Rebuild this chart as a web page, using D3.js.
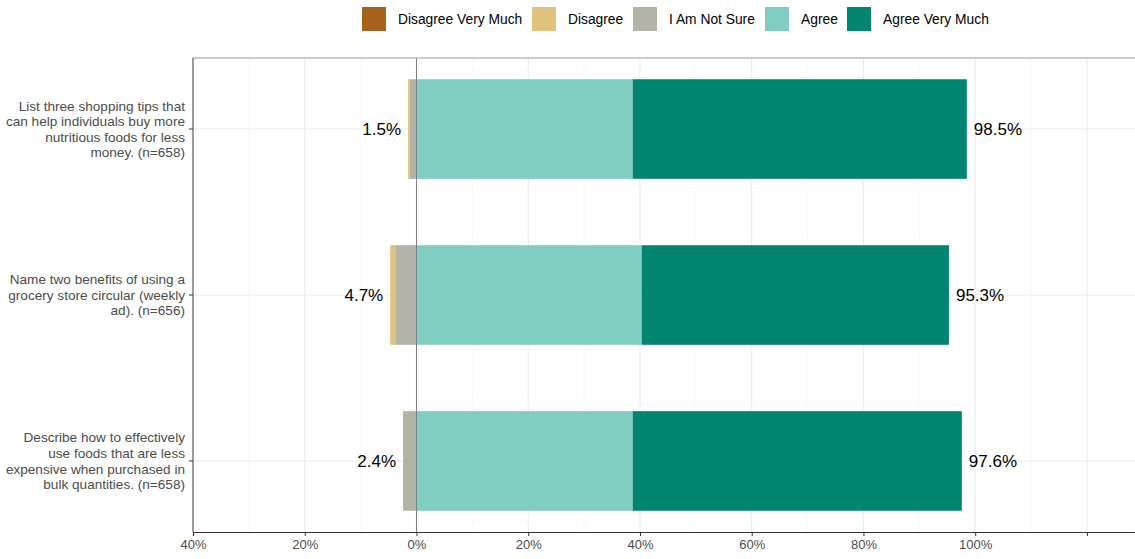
<!DOCTYPE html>
<html>
<head>
<meta charset="utf-8">
<script src="https://cdn.jsdelivr.net/npm/d3@7"></script>
<style>
  body { margin: 0; background: #fff; }
  svg { display: block; font-family: "Liberation Sans", Arial, sans-serif; }
</style>
</head>
<body>
<svg width="1135" height="559"></svg>
<script>
// Data (percent of respondents)
const items = [
  ["List three shopping tips that", "can help individuals buy more", "nutritious foods for less", "money. (n=658)"],
  ["Name two benefits of using a", "grocery store circular (weekly", "ad). (n=656)"],
  ["Describe how to effectively", "use foods that are less", "expensive when purchased in", "bulk quantities. (n=658)"],
];
const levels = ["Disagree Very Much", "Disagree", "I Am Not Sure", "Agree", "Agree Very Much"];
const disagreeVeryMuch = [0, 0, 0];
const disagree = [0.3, 0.9, 0];
const notSure = [1.2, 3.8, 2.4];
const agree = [38.7, 40.3, 38.7];
const agreeVeryMuch = [59.8, 55.0, 58.9];
const lowLabels = ["1.5%", "4.7%", "2.4%"];
const highLabels = ["98.5%", "95.3%", "97.6%"];
const xTicks = [-40, -20, 0, 20, 40, 60, 80, 100, 120];
const xTickLabels = ["40%", "20%", "0%", "20%", "40%", "60%", "80%", "100%", ""];
const minorTicks = [-30, -10, 10, 30, 50, 70, 90, 110];

const colors = {
  "Disagree Very Much": "#a6611a",
  "Disagree": "#dfc27d",
  "I Am Not Sure": "#b3b4a7",
  "Agree": "#80cdc1",
  "Agree Very Much": "#018571",
};

const svg = d3.select("svg");
const pLeft = 193, pRight = 1135, pTop = 58, pBottom = 532;

const x = d3.scaleLinear().domain([-40, 128.6]).range([pLeft, pRight]);
const y = d3.scalePoint().domain(d3.range(items.length)).range([pTop, pBottom]).padding(0.428);
const barH = y.step() * 0.6;

// build segments: negative side stacks outward from zero
const rows = items.map((lab, i) => {
  const segs = [];
  let neg = 0;
  [["I Am Not Sure", notSure[i]], ["Disagree", disagree[i]], ["Disagree Very Much", disagreeVeryMuch[i]]].forEach(([k, v]) => {
    segs.push({ key: k, x0: neg - v, x1: neg });
    neg -= v;
  });
  let pos = 0;
  [["Agree", agree[i]], ["Agree Very Much", agreeVeryMuch[i]]].forEach(([k, v]) => {
    segs.push({ key: k, x0: pos, x1: pos + v });
    pos += v;
  });
  return { i, segs, neg, pos };
});

// --- Grid ---
const grid = svg.append("g");
grid.selectAll("line.minor")
  .data(minorTicks)
  .join("line")
  .attr("class", "minor")
  .attr("x1", d => x(d)).attr("x2", d => x(d))
  .attr("y1", pTop).attr("y2", pBottom)
  .attr("stroke", "#f4f4f4").attr("stroke-width", 0.6);
grid.selectAll("line.major")
  .data(xTicks)
  .join("line")
  .attr("class", "major")
  .attr("x1", d => x(d)).attr("x2", d => x(d))
  .attr("y1", pTop).attr("y2", pBottom)
  .attr("stroke", "#ebebeb").attr("stroke-width", 1.1);
grid.selectAll("line.h")
  .data(d3.range(items.length))
  .join("line")
  .attr("class", "h")
  .attr("x1", pLeft).attr("x2", pRight)
  .attr("y1", d => y(d)).attr("y2", d => y(d))
  .attr("stroke", "#ebebeb").attr("stroke-width", 1.1);

// --- Bars ---
svg.append("g")
  .selectAll("g")
  .data(rows)
  .join("g")
  .selectAll("rect")
  .data(r => r.segs.filter(s => s.x1 > s.x0).map(s => ({ ...s, i: r.i })))
  .join("rect")
  .attr("x", d => x(d.x0))
  .attr("width", d => x(d.x1) - x(d.x0))
  .attr("y", d => y(d.i) - barH / 2)
  .attr("height", barH)
  .attr("fill", d => colors[d.key]);

// zero line
svg.append("line")
  .attr("x1", x(0)).attr("x2", x(0))
  .attr("y1", pTop).attr("y2", pBottom)
  .attr("stroke", "#7f7f7f").attr("stroke-width", 1);

// --- Value labels ---
svg.append("g")
  .selectAll("text")
  .data(rows)
  .join("text")
  .attr("x", d => x(d.neg) - 7)
  .attr("y", d => y(d.i))
  .attr("dy", "0.36em")
  .attr("text-anchor", "end")
  .attr("font-size", "17px")
  .attr("fill", "#000")
  .text(d => lowLabels[d.i]);
svg.append("g")
  .selectAll("text")
  .data(rows)
  .join("text")
  .attr("x", d => x(d.pos) + 7)
  .attr("y", d => y(d.i))
  .attr("dy", "0.36em")
  .attr("text-anchor", "start")
  .attr("font-size", "17px")
  .attr("fill", "#000")
  .text(d => highLabels[d.i]);

// --- Panel border ---
svg.append("line").attr("x1", pLeft).attr("x2", pRight).attr("y1", pTop).attr("y2", pTop)
  .attr("stroke", "#999").attr("stroke-width", 1.2);
svg.append("line").attr("x1", pLeft).attr("x2", pLeft).attr("y1", pTop).attr("y2", pBottom)
  .attr("stroke", "#555").attr("stroke-width", 1.1);

// --- X axis ---
const xAxis = svg.append("g")
  .attr("transform", `translate(0,${pBottom})`)
  .call(d3.axisBottom(x).tickValues(xTicks).tickSize(4).tickPadding(4)
    .tickFormat((d, i) => xTickLabels[i]));
xAxis.select(".domain").attr("stroke", "#333").attr("stroke-width", 1.2);
xAxis.selectAll(".tick line").attr("stroke", "#333");
xAxis.selectAll(".tick text")
  .attr("font-size", "13px")
  .attr("fill", "#4d4d4d")
  .attr("font-family", "'Liberation Sans', Arial, sans-serif");

// --- Y labels ---
const yLab = svg.append("g")
  .selectAll("g")
  .data(items)
  .join("g")
  .attr("transform", (d, i) => `translate(0,${y(i)})`);
yLab.append("line")
  .attr("x1", pLeft - 4).attr("x2", pLeft)
  .attr("stroke", "#333");
const lineH = 15.6;
yLab.append("text")
  .attr("text-anchor", "end")
  .attr("font-size", "13.6px")
  .attr("fill", "#4d4d4d")
  .selectAll("tspan")
  .data(d => d.map((t, j) => ({ t, j, n: d.length })))
  .join("tspan")
  .attr("x", pLeft - 8)
  .attr("y", d => (d.j - (d.n - 1) / 2) * lineH)
  .attr("dy", "0.36em")
  .text(d => d.t);

// --- Legend ---
const legendX = [362, 532, 633, 765, 847];
const leg = svg.append("g")
  .selectAll("g")
  .data(levels)
  .join("g")
  .attr("transform", (d, i) => `translate(${legendX[i]},7)`);
leg.append("rect")
  .attr("width", 24).attr("height", 24)
  .attr("fill", d => colors[d]);
leg.append("text")
  .attr("x", 36).attr("y", 12).attr("dy", "0.36em")
  .attr("font-size", "13.8px")
  .attr("fill", "#000")
  .text(d => d);
</script>
</body>
</html>
